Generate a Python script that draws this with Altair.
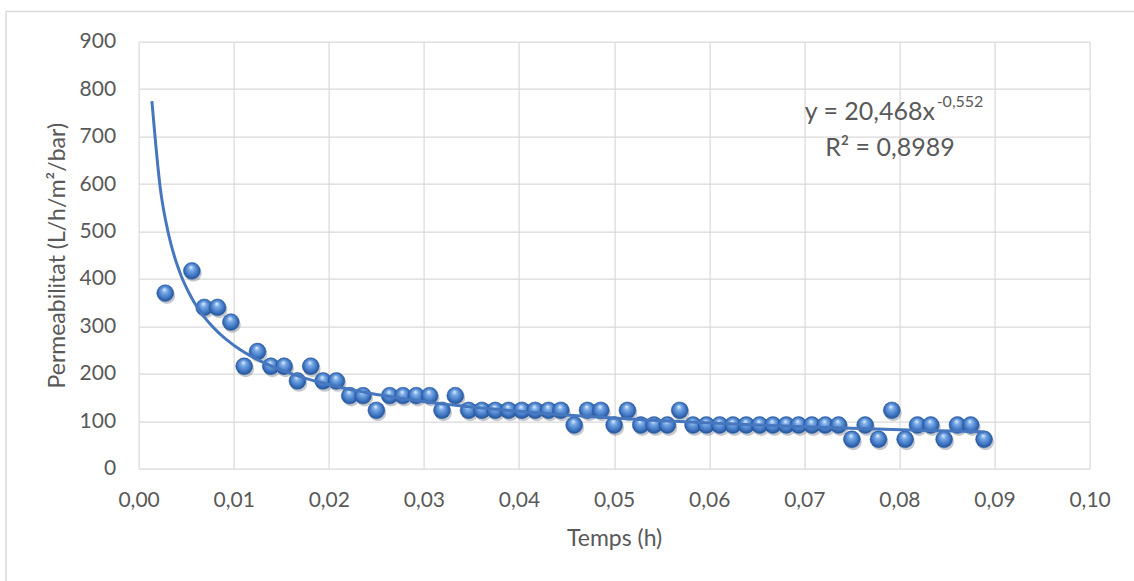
import altair as alt
import pandas as pd

# ---- data ----
hours = [0.0028, 0.0056, 0.0069, 0.0083, 0.0097, 0.0111, 0.0125, 0.0139, 0.0153, 0.0167,
         0.0181, 0.0194, 0.0208, 0.0222, 0.0236, 0.0250, 0.0264, 0.0278, 0.0292, 0.0306,
         0.0319, 0.0333, 0.0347, 0.0361, 0.0375, 0.0389, 0.0403, 0.0417, 0.0431, 0.0444,
         0.0458, 0.0472, 0.0486, 0.0500, 0.0514, 0.0528, 0.0542, 0.0556, 0.0569, 0.0583,
         0.0597, 0.0611, 0.0625, 0.0639, 0.0653, 0.0667, 0.0681, 0.0694, 0.0708, 0.0722,
         0.0736, 0.0750, 0.0764, 0.0778, 0.0792, 0.0806, 0.0819, 0.0833, 0.0847, 0.0861,
         0.0875, 0.0889]
perm = [370, 417, 340, 340, 309, 216, 247, 216, 216, 185,
        216, 185, 185, 154, 154, 123, 154, 154, 154, 154,
        123, 154, 123, 123, 123, 123, 123, 123, 123, 123,
        92, 123, 123, 92, 123, 92, 92, 92, 123, 92,
        92, 92, 92, 92, 92, 92, 92, 92, 92, 92,
        92, 62, 92, 62, 123, 62, 92, 92, 62, 92,
        92, 62]
assert len(hours) == len(perm)

x_ticks = [0.00, 0.01, 0.02, 0.03, 0.04, 0.05, 0.06, 0.07, 0.08, 0.09, 0.10]
y_ticks = [0, 100, 200, 300, 400, 500, 600, 700, 800, 900]
trend_extent = [0.0014, 0.0889]

eq_main = ["y = 20,468x"]
eq_main_pos = [0.08374, 735]
eq_exp = ["-0,552"]
eq_exp_pos = [0.08392, 762]
eq_r2 = ["R² = 0,8989"]
eq_r2_pos = [0.0790, 660]

FONT = "Lato"
GRAY = "#595959"
GRID = "#d9d9d9"

df = pd.DataFrame({"Temps": hours, "Perm": perm})

x_scale = alt.Scale(domain=[0, 0.1], nice=False, zero=False)
y_scale = alt.Scale(domain=[0, 900], nice=False)

x_axis = alt.Axis(
    title="Temps (h)", values=x_ticks,
    labelExpr="replace(format(datum.value, '.2f'), '.', ',')",
    grid=True, gridColor=GRID, gridWidth=1.2, domain=False, ticks=False, tickSize=0,
    labelPadding=21, labelFontSize=21, labelColor=GRAY, labelFont=FONT,
    labelFlush=False, labelOverlap=False,
    titleFont=FONT, titleFontSize=23, titleColor=GRAY, titleFontWeight="normal",
    titleY=77, titleBaseline="alphabetic",
)
y_axis = alt.Axis(
    title="Permeabilitat (L/h/m²/bar)", values=y_ticks, format="d",
    grid=True, gridColor=GRID, gridWidth=1.2, domain=False, ticks=False, tickSize=0,
    labelPadding=23, labelFontSize=21, labelColor=GRAY, labelFont=FONT,
    labelFlush=False, labelOverlap=False,
    titleFont=FONT, titleFontSize=23, titleColor=GRAY, titleFontWeight="normal",
    titleX=-74, titleY=213.5, titleAngle=270, titleAlign="center", titleBaseline="alphabetic",
)

base = alt.Chart(df)

sphere = alt.Gradient(
    gradient="radial",
    stops=[
        alt.GradientStop(offset=0, color="#dbe9fc"),
        alt.GradientStop(offset=0.25, color="#79aae6"),
        alt.GradientStop(offset=0.7, color="#3b72c0"),
        alt.GradientStop(offset=1, color="#1d4887"),
    ],
    x1=0.45, y1=0.28, r1=0.02, x2=0.5, y2=0.5, r2=0.55,
)

SIZE = 285
shadow = base.mark_circle(size=SIZE, color="#5a6272", opacity=0.35, xOffset=1.5, yOffset=2.5).encode(
    x=alt.X("Temps:Q", scale=x_scale, axis=x_axis),
    y=alt.Y("Perm:Q", scale=y_scale, axis=y_axis),
)
points = base.mark_circle(size=SIZE, color=sphere, opacity=1, stroke="#2b5a9e", strokeWidth=0.5).encode(
    x=alt.X("Temps:Q", scale=x_scale),
    y=alt.Y("Perm:Q", scale=y_scale),
)
trend = base.transform_regression(
    "Temps", "Perm", method="pow", extent=trend_extent
).mark_line(color="#4677be", strokeWidth=3, interpolate="monotone").encode(
    x=alt.X("Temps:Q", scale=x_scale),
    y=alt.Y("Perm:Q", scale=y_scale),
)

def ann(txt, pos, size, align):
    d = pd.DataFrame({"Temps": [pos[0]], "Perm": [pos[1]], "label": txt})
    return alt.Chart(d).mark_text(
        font=FONT, fontSize=size, color=GRAY, align=align, baseline="alphabetic"
    ).encode(
        x=alt.X("Temps:Q", scale=x_scale),
        y=alt.Y("Perm:Q", scale=y_scale),
        text="label:N",
    )

t_main = ann(eq_main, eq_main_pos, 25, "right")
t_exp = ann(eq_exp, eq_exp_pos, 16, "left")
t_r2 = ann(eq_r2, eq_r2_pos, 25, "center")

border_df = pd.DataFrame({"k": [0]})
border_top = alt.Chart(border_df).mark_rule(color=GRID, strokeWidth=1.5).encode(
    x=alt.value(-132.6), x2=alt.value(1010), y=alt.value(-30.3)
)
border_left = alt.Chart(border_df).mark_rule(color=GRID, strokeWidth=1.5).encode(
    x=alt.value(-132.6), y=alt.value(-30.3), y2=alt.value(560)
)

chart = alt.layer(
    shadow, points, trend, t_main, t_exp, t_r2, border_top, border_left
).properties(
    width=951, height=427,
    autosize=alt.AutoSizeParams(type="none"),
    padding={"left": 138.6, "top": 41.7, "right": 44.4, "bottom": 112.3},
    background="white",
).configure_view(stroke="transparent")

chart.save("out.html", embed_options={"renderer": "svg", "actions": False})
